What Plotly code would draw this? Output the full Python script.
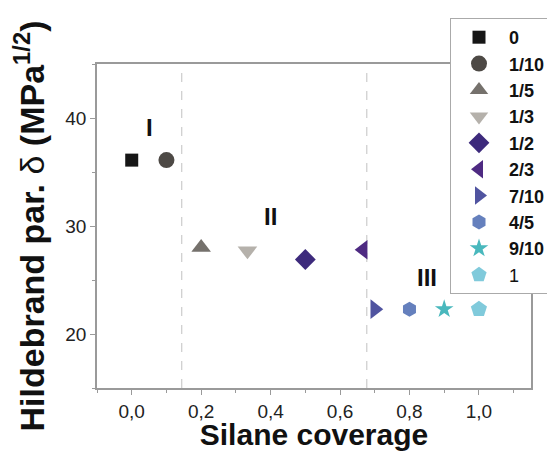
import plotly.graph_objects as go

# ---- data ----
coverage_labels = ["0", "1/10", "1/5", "1/3", "1/2", "2/3", "7/10", "4/5", "9/10", "1"]
coverage = [0.0, 0.1, 0.2, 1/3, 0.5, 2/3, 0.7, 0.8, 0.9, 1.0]
hildebrand = [36.1, 36.1, 28.0, 27.7, 26.9, 27.8, 22.3, 22.3, 22.3, 22.3]
symbols = ["square", "circle", "triangle-up", "triangle-down", "diamond",
           "triangle-left", "triangle-right", "hexagon", "star", "pentagon"]
colors = ["#161616", "#4d4945", "#75716c", "#b5b1ab", "#3d2a7c",
          "#4e2a82", "#5054a0", "#6580bd", "#49b8bd", "#80cadb"]
marker_sizes = [13, 16, 17, 17, 16, 17, 17, 15, 14, 17]
bold_names = [True] * 9 + [False]

region_bounds = [0.144, 0.677]
region_labels = ["I", "II", "III"]
region_label_x = [0.05, 0.40, 0.85]
region_label_y = [39.1, 30.9, 25.2]

x_ticks = [0.0, 0.2, 0.4, 0.6, 0.8, 1.0]
x_ticktext = ["0,0", "0,2", "0,4", "0,6", "0,8", "1,0"]
y_ticks = [20, 30, 40]

FONT = "Liberation Sans, Arial"
NB = "\u00a0\u00a0"

fig = go.Figure()
for lab, xv, yv, sym, col, sz, b in zip(coverage_labels, coverage, hildebrand, symbols,
                                        colors, marker_sizes, bold_names):
    fig.add_trace(go.Scatter(
        x=[xv], y=[yv], mode="markers",
        name=(NB + f"<b>{lab}</b>" if b else NB + lab),
        marker=dict(symbol=sym, color=col, size=sz, line=dict(width=0)),
    ))

for xb in region_bounds:
    fig.add_shape(type="line", x0=xb, x1=xb, xref="x", y0=0, y1=1, yref="paper",
                  line=dict(color="#cccccc", width=1.2, dash="dash"), layer="below")

for t, xv, yv in zip(region_labels, region_label_x, region_label_y):
    fig.add_annotation(x=xv, y=yv, text=f"<b>{t}</b>", showarrow=False,
                       font=dict(family=FONT, size=24, color="#111111"))

axis_common = dict(
    showgrid=False, zeroline=False, showline=True, linecolor="#9a9a9a", linewidth=1.5,
    mirror=True, ticks="outside", ticklen=5, tickcolor="#9a9a9a", tickwidth=1,
    tickfont=dict(family=FONT, size=19, color="#222222"),
)

fig.update_xaxes(range=[-0.1, 1.15], tickvals=x_ticks, ticktext=x_ticktext,
                 minor=dict(dtick=0.1, tick0=0, ticks="outside", ticklen=3, tickcolor="#9a9a9a"),
                 title=dict(text="<b>Silane coverage</b>", standoff=0,
                            font=dict(family=FONT, size=30, color="#111111")),
                 **axis_common)
fig.update_yaxes(range=[15, 45], tickvals=y_ticks,
                 minor=dict(dtick=5, tick0=0, ticks="outside", ticklen=3, tickcolor="#9a9a9a"),
                 title=dict(text="<b>Hildebrand par. </b>δ<b> (MPa<sup>1/2</sup>)</b>", standoff=10,
                            font=dict(family=FONT, size=34, color="#111111")),
                 **axis_common)

# the page places the figure 8px from the top-left corner of the window
fig.update_layout(
    width=547, height=443,
    margin=dict(l=89, r=24, t=56, b=63, autoexpand=False),
    plot_bgcolor="white", paper_bgcolor="white",
    showlegend=True,
    legend=dict(x=(442 - 89) / 434, y=1 + (56 - 10) / 324, xanchor="left", yanchor="top",
                bgcolor="white", bordercolor="#aaaaaa", borderwidth=1,
                font=dict(family=FONT, size=18, color="#111111"),
                tracegroupgap=0, maxheight=1.0,
                indentation=8, itemsizing="trace"),
)

fig.write_html("out.html")
